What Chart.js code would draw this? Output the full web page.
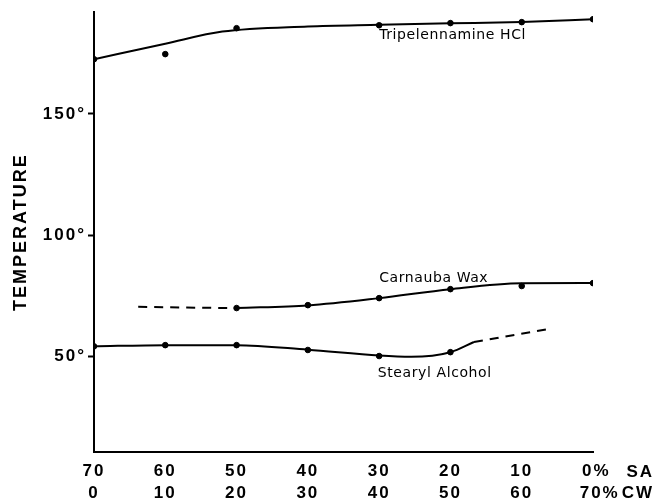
<!DOCTYPE html>
<html>
<head>
<meta charset="utf-8">
<script src="https://cdn.jsdelivr.net/npm/chart.js@4.4.0/dist/chart.umd.min.js"></script>
<style>
  html, body { margin: 0; padding: 0; background: #fff; }
  #wrap { width: 662px; height: 502px; }
</style>
</head>
<body>
<div id="wrap"><canvas id="chart" width="662" height="502"></canvas></div>
<script>
// x = % stearyl alcohol (SA); the second row of labels is % carnauba wax (CW)
const saTicks = [70, 60, 50, 40, 30, 20, 10, 0];
const saLabels = ['70', '60', '50', '40', '30', '20', '10', ' 0%'];
const cwLabels = ['0', '10', '20', '30', '40', '50', '60', '  70%'];
const tempTicks = [50, 100, 150];

// Tripelennamine HCl
const tripLineX = [70, 60, 52, 40, 30, 20, 10, 0];
const tripLineY = [172.6, 179, 184, 186.1, 186.8, 187.4, 188, 189.1];
const tripDotX = [70, 60, 50, 30, 20, 10, 0];
const tripDotY = [172.6, 174.7, 185.4, 186.6, 187.5, 187.9, 189.1];

// Carnauba Wax
const waxLineX = [50, 40, 30, 20, 10, 0];
const waxLineY = [69.9, 71, 74, 77.7, 80.1, 80.2];
const waxDashX = [63.8, 57, 50];
const waxDashY = [70.4, 70.1, 69.9];
const waxDotX = [50, 40, 30, 20, 10, 0];
const waxDotY = [69.9, 71.1, 74, 77.7, 79, 80.2];

// Stearyl Alcohol
const alcLineX = [70, 60, 50, 40, 30, 25.5, 20, 16.7];
const alcLineY = [54.1, 54.6, 54.6, 52.7, 50.3, 49.8, 51.7, 55.9];
const alcDashX = [16.7, 6.3];
const alcDashY = [55.9, 61.2];
const alcDotX = [70, 60, 50, 40, 30, 20];
const alcDotY = [54.1, 54.6, 54.6, 52.6, 50.1, 51.7];

// curve labels: [text, x value, y value]
const curveNames = [
  ['Tripelennamine HCl', 30, 182.5],
  ['Carnauba Wax', 30, 82.3],
  ['Stearyl Alcohol', 30.2, 43]
];

function pts(xs, ys) {
  return xs.map((x, i) => ({ x, y: ys[i] }));
}

function line(xs, ys, dashed) {
  return {
    type: 'line',
    data: pts(xs, ys),
    borderColor: '#000',
    borderWidth: 2,
    borderDash: dashed ? [9, 7] : [],
    pointRadius: 0,
    cubicInterpolationMode: 'monotone',
    fill: false
  };
}

function dots(xs, ys) {
  return {
    type: 'scatter',
    data: pts(xs, ys),
    backgroundColor: '#000',
    borderColor: '#000',
    pointRadius: 2.8,
    showLine: false
  };
}

// wider letter spacing for the axis text, like the original lettering
const spacing = {
  id: 'spacing',
  beforeDraw(chart) {
    chart.ctx.letterSpacing = '2px';
  }
};

const extraText = {
  id: 'extraText',
  afterDatasetsDraw(chart) {
    const { ctx, scales } = chart;
    ctx.save();
    ctx.fillStyle = '#000';
    ctx.font = '14px "DejaVu Sans"';
    ctx.letterSpacing = '0.6px';
    ctx.textBaseline = 'middle';
    ctx.textAlign = 'left';
    curveNames.forEach(([t, x, y]) => {
      ctx.fillText(t, scales.x.getPixelForValue(x), scales.y.getPixelForValue(y));
    });
    // SA / CW units after the last tick
    ctx.font = 'bold 17px "Liberation Sans"';
    ctx.letterSpacing = '2px';
    ctx.textAlign = 'right';
    const px = scales.x.getPixelForValue(0) + 61;
    ctx.fillText('SA', px, scales.x.top + 20);
    ctx.fillText('CW', px, scales.x.top + 41);
    ctx.restore();
  }
};

new Chart(document.getElementById('chart'), {
  type: 'line',
  data: {
    datasets: [
      line(tripLineX, tripLineY, false),
      dots(tripDotX, tripDotY),
      line(waxLineX, waxLineY, false),
      line(waxDashX, waxDashY, true),
      dots(waxDotX, waxDotY),
      line(alcLineX, alcLineY, false),
      line(alcDashX, alcDashY, true),
      dots(alcDotX, alcDotY)
    ]
  },
  options: {
    responsive: false,
    animation: false,
    layout: { padding: { top: 12, right: 69, left: 0, bottom: 0 } },
    plugins: { legend: { display: false }, tooltip: { enabled: false } },
    scales: {
      x: {
        type: 'linear',
        reverse: true,
        min: 0,
        max: 70,
        afterFit: s => { s.height = 50; },
        afterBuildTicks: s => { s.ticks = saTicks.map(v => ({ value: v })); },
        border: { color: '#000', width: 2 },
        grid: { display: true, drawOnChartArea: false, drawTicks: false },
        ticks: {
          color: '#000',
          padding: 9,
          maxRotation: 0,
          autoSkip: false,
          font: { family: 'Liberation Sans', size: 17, weight: 'bold', lineHeight: 1.25 },
          callback: v => {
            const i = saTicks.indexOf(v);
            return i < 0 ? '' : [saLabels[i], cwLabels[i]];
          }
        }
      },
      y: {
        type: 'linear',
        min: 10.5,
        max: 192,
        afterFit: s => { s.width = 94; },
        afterBuildTicks: s => { s.ticks = tempTicks.map(v => ({ value: v })); },
        border: { color: '#000', width: 2 },
        grid: { display: true, drawOnChartArea: false, tickLength: 6, color: '#000', tickWidth: 2 },
        title: {
          display: true,
          text: 'TEMPERATURE',
          color: '#000',
          padding: { top: 10, bottom: 0 },
          font: { family: 'Liberation Sans', size: 18, weight: 'bold' }
        },
        ticks: {
          color: '#000',
          padding: 2,
          font: { family: 'Liberation Sans', size: 17, weight: 'bold' },
          callback: v => v + '°'
        }
      }
    }
  },
  plugins: [spacing, extraText]
});
</script>
</body>
</html>
